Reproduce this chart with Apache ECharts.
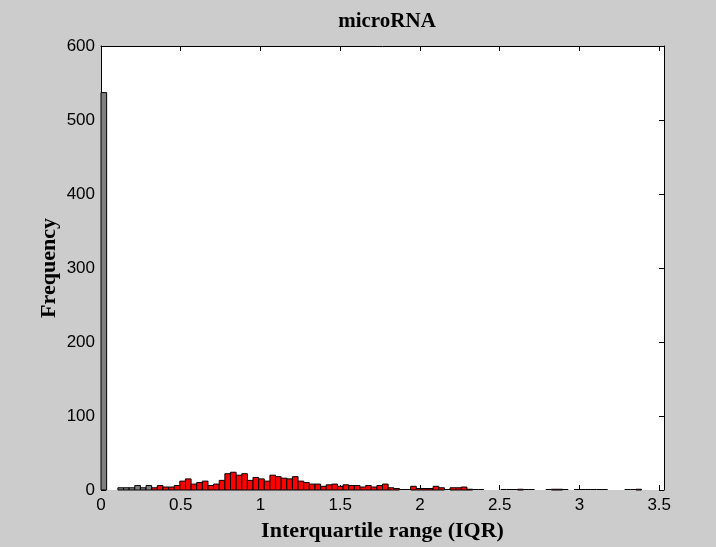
<!DOCTYPE html>
<html>
<head>
<meta charset="utf-8">
<script src="https://cdn.jsdelivr.net/npm/echarts@6/dist/echarts.min.js"></script>
<style>html,body{margin:0;padding:0;background:#cccccc;}#c{width:716px;height:547px;}</style>
</head>
<body>
<div id="c"></div>
<script>
// ---- data ----
const titleText = 'microRNA';
const xName = 'Interquartile range (IQR)';
const yName = 'Frequency';
const binWidth = 0.0353;          // histogram bin width (IQR units)
const grayBinCount = 9;           // first bins (filtered out) drawn gray
// counts per bin (null = nothing drawn)
const counts = [
  537, null, null, 3, 3, 3, 6, 3, 6, 3,
  6, 4, 4, 6, 12, 15, 8, 10, 12, 6,
  8, 13, 22, 24, 20, 22, 13, 17, 15, 12,
  20, 18, 16, 15, 18, 12, 10, 8, 8, 5,
  7, 8, 5, 7, 6, 6, 4, 6, 4, 6,
  8, 3, 2, 0, 0, 5, 2, 2, 2, 5,
  3, 0, 3, 3, 4, 1, 0, 0, null, null,
  null, 0, 0, 0, 1, 0, 0, null, null, 0,
  1, 1, 0, null, 0, 0, 0, 0, 0, 0,
  null, null, null, 0, 0, 1, null, null, null, null
];
const xTicks = [0, 0.5, 1, 1.5, 2, 2.5, 3, 3.5];
const yTicks = [0, 100, 200, 300, 400, 500, 600];

// ---- build ----
const items = [];
counts.forEach((c, i) => {
  if (c === null) return;
  items.push([i * binWidth, (i + 1) * binWidth, c, i < grayBinCount ? 1 : 0]);
});

const xMax = counts.length * binWidth;
const tickFont = {fontFamily: "'Liberation Sans',Arial,sans-serif", fontSize: 17, color: '#000'};
const nameFont = {fontFamily: "'Liberation Serif','DejaVu Serif',serif", fontWeight: 'bold', fontSize: 22, color: '#000'};
const tickStyle = {show: true, inside: true, length: 5, lineStyle: {color: '#000', width: 1}};

const chart = echarts.init(document.getElementById('c'));
chart.setOption({
  backgroundColor: '#cccccc',
  animation: false,
  title: {
    text: titleText, left: 382, top: 6, textAlign: 'center',
    textStyle: {fontFamily: "'Liberation Serif','DejaVu Serif',serif", fontWeight: 'bold', fontSize: 21, color: '#000'}
  },
  grid: {left: 101, right: 52, top: 46, bottom: 55, show: true, backgroundColor: '#ffffff', borderWidth: 0},
  xAxis: [{
    type: 'value', position: 'bottom', min: 0, max: xMax, interval: 0.5,
    name: xName, nameLocation: 'middle', nameGap: 30, nameTextStyle: nameFont,
    nameMoveOverlap: false,
    axisLine: {show: false},
    axisTick: tickStyle,
    axisLabel: {show: true, margin: 7, showMaxLabel: false, ...tickFont,
      formatter: v => (xTicks.indexOf(Math.round(v * 100) / 100) >= 0 ? String(v) : '')},
    splitLine: {show: false}
  }, {
    type: 'value', position: 'top', min: 0, max: xMax, interval: 0.5,
    axisLine: {show: true, onZero: false, lineStyle: {color: '#000', width: 1}},
    axisTick: tickStyle,
    axisLabel: {show: false}, splitLine: {show: false}
  }],
  yAxis: [{
    type: 'value', position: 'left', min: yTicks[0], max: yTicks[yTicks.length - 1], interval: 100,
    name: yName, nameLocation: 'middle', nameGap: 41, nameTextStyle: nameFont,
    nameMoveOverlap: false,
    axisLine: {show: true, onZero: false, lineStyle: {color: '#000', width: 1}},
    axisTick: tickStyle,
    axisLabel: {show: true, margin: 6, ...tickFont},
    splitLine: {show: false}
  }, {
    type: 'value', position: 'right', min: yTicks[0], max: yTicks[yTicks.length - 1], interval: 100,
    axisLine: {show: true, onZero: false, lineStyle: {color: '#000', width: 1}},
    axisTick: tickStyle,
    axisLabel: {show: false}, splitLine: {show: false}
  }],
  series: [{
    type: 'custom',
    xAxisIndex: 0, yAxisIndex: 0,
    data: items,
    encode: {x: [0, 1], y: 2},
    renderItem: function (params, api) {
      const x0 = api.value(0), x1 = api.value(1), c = api.value(2), gray = api.value(3);
      const pTop = api.coord([x0, c]);
      const pBot = api.coord([x1, 0]);
      if (c === 0) {
        return {type: 'line', shape: {x1: pTop[0], y1: pBot[1] - 0.5, x2: pBot[0], y2: pBot[1] - 0.5},
          style: {stroke: '#000', lineWidth: 1}};
      }
      return {
        type: 'rect',
        shape: {x: pTop[0], y: pTop[1], width: pBot[0] - pTop[0], height: pBot[1] - pTop[1]},
        style: {fill: gray ? '#808080' : '#ff0000', stroke: '#000', lineWidth: 1}
      };
    }
  }, {
    type: 'line', xAxisIndex: 1, yAxisIndex: 1, data: [], silent: true
  }]
});
</script>
</body>
</html>
